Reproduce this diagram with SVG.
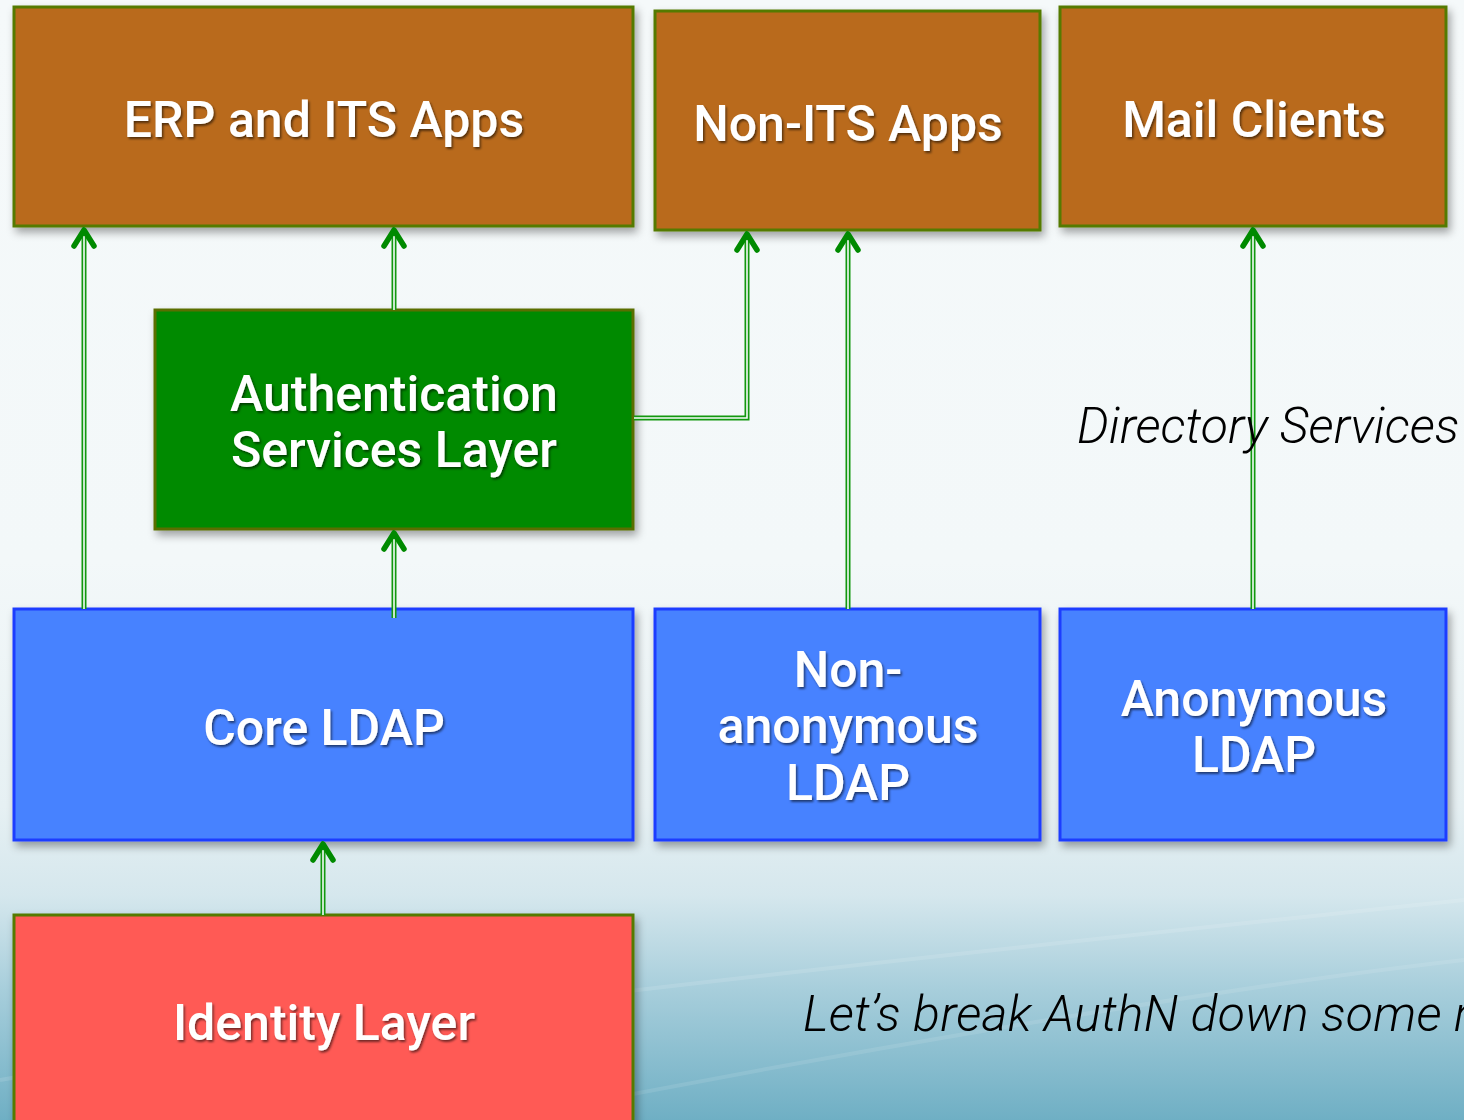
<svg xmlns="http://www.w3.org/2000/svg" width="1464" height="1120" viewBox="0 0 1464 1120">
<defs>
<linearGradient id="bg" x1="0" y1="0" x2="0" y2="1">
<stop offset="0" stop-color="#F5F9FA"/>
<stop offset="0.5" stop-color="#F3F8F9"/>
<stop offset="0.72" stop-color="#E6F0F3"/>
<stop offset="0.8" stop-color="#D5E7ED"/>
<stop offset="0.88" stop-color="#A9CFDC"/>
<stop offset="1" stop-color="#6FAFC4"/>
</linearGradient>
<filter id="sh" x="-5%" y="-5%" width="115%" height="120%">
<feDropShadow dx="3" dy="5" stdDeviation="4" flood-color="#000" flood-opacity="0.35"/>
</filter>
<filter id="tsh" x="-5%" y="-10%" width="115%" height="130%">
<feDropShadow dx="1.5" dy="2" stdDeviation="1" flood-color="#000" flood-opacity="0.55"/>
</filter>
<marker id="ah" viewBox="-24 -14 28 28" refX="0" refY="0" markerWidth="28" markerHeight="28" markerUnits="userSpaceOnUse" orient="auto">
<path d="M-16,-10 L0,0 L-16,10" fill="none" stroke="#008A00" stroke-width="5.5" stroke-linecap="round" stroke-linejoin="round"/>
</marker>
</defs>
<style>
.brown{fill:#B96A1D;stroke:#557A00;stroke-width:3}
.green{fill:#008A00;stroke:#5A6E00;stroke-width:3}
.blue{fill:#4682FF;stroke:#1E3CFF;stroke-width:3}
.red{fill:#FF5A55;stroke:#557A00;stroke-width:3}
.lbl{font-family:Roboto,"Liberation Sans",Arial,sans-serif;font-weight:500;font-size:50px;fill:#FFFFFF;text-anchor:middle}
.ital{font-family:Roboto,"Liberation Sans",Arial,sans-serif;font-weight:300;font-style:italic;font-size:50px;fill:#000}
.outer{fill:none;stroke:#12980F;stroke-width:5}
.inner{fill:none;stroke:#F7FBFB;stroke-width:1.6}
</style>
<rect x="0" y="0" width="1464" height="1120" fill="url(#bg)"/>
<path d="M0,1080 C400,1010 900,960 1464,900" fill="none" stroke="#FFFFFF" stroke-opacity="0.12" stroke-width="4"/>
<path d="M500,1120 C800,1060 1200,990 1464,960" fill="none" stroke="#FFFFFF" stroke-opacity="0.1" stroke-width="4"/>

<g id="erp" filter="url(#sh)"><rect class="brown" x="14" y="7" width="619" height="219"/></g>
<g id="nonits" filter="url(#sh)"><rect class="brown" x="655" y="11" width="385" height="219"/></g>
<g id="mail" filter="url(#sh)"><rect class="brown" x="1060" y="7" width="386" height="219"/></g>
<g id="auth" filter="url(#sh)"><rect class="green" x="155" y="310" width="478" height="219"/></g>
<g id="core" filter="url(#sh)"><rect class="blue" x="14" y="609" width="619" height="231"/></g>
<g id="nonanon" filter="url(#sh)"><rect class="blue" x="655" y="609" width="385" height="231"/></g>
<g id="anon" filter="url(#sh)"><rect class="blue" x="1060" y="609" width="386" height="231"/></g>
<g id="identity" filter="url(#sh)"><rect class="red" x="14" y="915" width="619" height="220"/></g>

<g id="connectors">
<g class="outer">
<path d="M84,609 V232"/>
<path d="M394,310 V232"/>
<path d="M394,618 V535"/>
<path d="M634,418 H747 V236"/>
<path d="M848,609 V236"/>
<path d="M1253,609 V232"/>
<path d="M323,915 V846"/>
</g>
<g class="inner">
<path d="M84,609 V236"/>
<path d="M394,310 V236"/>
<path d="M394,618 V539"/>
<path d="M634,418 H747 V240"/>
<path d="M848,609 V240"/>
<path d="M1253,609 V236"/>
<path d="M323,915 V850"/>
</g>
<g fill="none" stroke="none">
<path d="M84,260 V230" marker-end="url(#ah)"/>
<path d="M394,260 V230" marker-end="url(#ah)"/>
<path d="M394,560 V533" marker-end="url(#ah)"/>
<path d="M747,260 V234" marker-end="url(#ah)"/>
<path d="M848,260 V234" marker-end="url(#ah)"/>
<path d="M1253,260 V230" marker-end="url(#ah)"/>
<path d="M323,880 V844" marker-end="url(#ah)"/>
</g>
</g>

<g filter="url(#tsh)">
<text class="lbl" x="324" y="137">ERP and ITS Apps</text>
<text class="lbl" x="848" y="141">Non-ITS Apps</text>
<text class="lbl" x="1254" y="137">Mail Clients</text>
<text class="lbl" x="394" y="411">Authentication</text>
<text class="lbl" x="394" y="467">Services Layer</text>
<text class="lbl" x="324" y="745">Core LDAP</text>
<text class="lbl" x="848" y="687">Non-</text>
<text class="lbl" x="848" y="743">anonymous</text>
<text class="lbl" x="848" y="800">LDAP</text>
<text class="lbl" x="1254" y="716">Anonymous</text>
<text class="lbl" x="1254" y="772">LDAP</text>
<text class="lbl" x="324" y="1040">Identity Layer</text>
</g>
<text class="ital" x="1077" y="443">Directory Services</text>
<text class="ital" x="803" y="1031" letter-spacing="0.2">Let’s break AuthN down some more</text>
</svg>
